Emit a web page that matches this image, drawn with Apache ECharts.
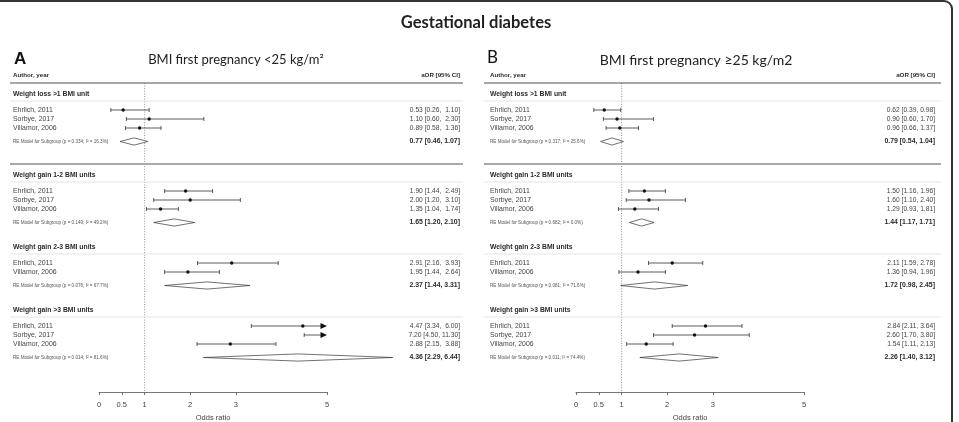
<!DOCTYPE html>
<html><head><meta charset="utf-8">
<script src="https://cdn.jsdelivr.net/npm/echarts@6/dist/echarts.min.js"></script>
<style>html,body{margin:0;padding:0;background:#fff}#c{width:959px;height:422px}</style>
</head><body><div id="c"></div>
<script>
// ---------- data ----------
const subgroups = ['Weight loss >1 BMI unit', 'Weight gain 1-2 BMI units', 'Weight gain 2-3 BMI units', 'Weight gain >3 BMI units'];
const studies = [
  ['Ehrlich, 2011', 'Sorbye, 2017', 'Villamor, 2006'],
  ['Ehrlich, 2011', 'Sorbye, 2017', 'Villamor, 2006'],
  ['Ehrlich, 2011', 'Villamor, 2006'],
  ['Ehrlich, 2011', 'Sorbye, 2017', 'Villamor, 2006']
];
// Panel A: BMI first pregnancy <25
const orA   = [[0.53, 1.10, 0.89], [1.90, 2.00, 1.35], [2.91, 1.95], [4.47, 7.20, 2.88]];
const lowA  = [[0.26, 0.60, 0.58], [1.44, 1.20, 1.04], [2.16, 1.44], [3.34, 4.50, 2.15]];
const highA = [[1.10, 2.30, 1.36], [2.49, 3.10, 1.74], [3.93, 2.64], [6.00, 11.30, 3.88]];
const reA     = [0.77, 1.65, 2.37, 4.36];
const reLowA  = [0.46, 1.20, 1.44, 2.29];
const reHighA = [1.07, 2.10, 3.31, 6.44];
const reStatsA = ['p = 0.334; I² = 16.3%', 'p = 0.149; I² = 49.2%', 'p = 0.076; I² = 67.7%', 'p = 0.014; I² = 81.6%'];
// Panel B: BMI first pregnancy >=25
const orB   = [[0.62, 0.90, 0.96], [1.50, 1.60, 1.29], [2.11, 1.36], [2.84, 2.60, 1.54]];
const lowB  = [[0.39, 0.60, 0.66], [1.16, 1.10, 0.93], [1.59, 0.94], [2.11, 1.70, 1.11]];
const highB = [[0.98, 1.70, 1.37], [1.96, 2.40, 1.81], [2.78, 1.96], [3.64, 3.80, 2.13]];
const reB     = [0.79, 1.44, 1.72, 2.26];
const reLowB  = [0.54, 1.17, 0.98, 1.40];
const reHighB = [1.04, 1.71, 2.45, 3.12];
const reStatsB = ['p = 0.317; I² = 25.6%', 'p = 0.682; I² = 0.0%', 'p = 0.081; I² = 71.6%', 'p = 0.011; I² = 74.4%'];
// axis
const xTicks = [0, 0.5, 1, 2, 3, 5];
const xMin = 0, xMax = 5;
const refValue = 1;

// ---------- layout helpers ----------
const ROW_TOP = -3, ROW_BOTTOM = 31.333;
function fmt(v) { return v.toFixed(2); }
function padL(s, n) { while (s.length < n) s = ' ' + s; return s; }

function buildRows(or, lo, hi, re, reLo, reHi, stats, padHi) {
  const rows = [];
  rows.push({kind: 'colhead', row: -3.9});
  rows.push({kind: 'top', row: ROW_TOP});
  rows.push({kind: 'ref', row: ROW_TOP});
  let start = 0;
  for (let g = 0; g < subgroups.length; g++) {
    rows.push({kind: 'header', row: start - 1.75, text: subgroups[g]});
    rows.push({kind: 'hline', row: start - 1.0});
    studies[g].forEach((s, i) => {
      const h = padHi ? padL(fmt(hi[g][i]), 5) : fmt(hi[g][i]);
      rows.push({kind: 'study', row: start + i, text: s, est: or[g][i], lo: lo[g][i], hi: hi[g][i],
        val: fmt(or[g][i]) + ' [' + fmt(lo[g][i]) + ', ' + h + ']'});
    });
    const reRow = start + studies[g].length - 1 + 1.5;
    rows.push({kind: 're', row: reRow, text: 'RE Model for Subgroup (' + stats[g] + ')', est: re[g], lo: reLo[g], hi: reHi[g],
      val: fmt(re[g]) + ' [' + fmt(reLo[g]) + ', ' + fmt(reHi[g]) + ']'});
    if (g === 0) rows.push({kind: 'sep', row: reRow + 2.5});
    start = reRow + (g === 0 ? 5.5 : 4.5);
  }
  return rows;
}

const rowsA = buildRows(orA, lowA, highA, reA, reLowA, reHighA, reStatsA, true);
const rowsB = buildRows(orB, lowB, highB, reB, reLowB, reHighB, reStatsB, false);

const LA = {textLeft: 13, valRight: 460, lineLeft: 10, lineRight: 463};
const LB = {textLeft: 490, valRight: 935, lineLeft: 484, lineRight: 941};

const FONT = '"Liberation Sans", Arial, sans-serif';
const INK = '#2b2b2b';

function txt(x, y, text, font, fill, align) {
  return {type: 'text', style: {x: x, y: y, text: text, font: font, fill: fill,
    align: align || 'left', textAlign: align || 'left', verticalAlign: 'middle', textVerticalAlign: 'middle'}};
}

function makeRender(rows, L) {
  return function (params, api) {
    const r = rows[params.dataIndex];
    const y = api.coord([xMin, r.row])[1];
    const X = v => api.coord([v, r.row])[0];
    const ch = [];
    const lineStyle = {stroke: '#333', lineWidth: 0.8};
    if (r.kind === 'colhead') {
      ch.push(txt(L.textLeft, y, 'Author, year', 'bold 6.2px ' + FONT, INK));
      ch.push(txt(L.valRight, y, 'aOR [95% CI]', 'bold 6.2px ' + FONT, INK, 'right'));
    } else if (r.kind === 'top') {
      ch.push({type: 'line', shape: {x1: L.lineLeft, y1: y, x2: L.lineRight, y2: y}, style: {stroke: '#8a8a8a', lineWidth: 1.4}});
    } else if (r.kind === 'ref') {
      const p1 = api.coord([refValue, ROW_TOP]);
      const p2 = api.coord([refValue, ROW_BOTTOM]);
      ch.push({type: 'line', shape: {x1: p1[0], y1: p1[1], x2: p2[0], y2: p2[1]}, style: {stroke: '#666', lineWidth: 0.7, lineDash: [1, 1.6]}});
    } else if (r.kind === 'header') {
      ch.push(txt(L.textLeft, y, r.text, 'bold 6.8px ' + FONT, INK));
    } else if (r.kind === 'hline') {
      ch.push({type: 'line', shape: {x1: L.lineLeft, y1: y, x2: L.lineRight, y2: y}, style: {stroke: '#e4e4e4', lineWidth: 1}});
    } else if (r.kind === 'sep') {
      ch.push({type: 'line', shape: {x1: L.lineLeft, y1: y, x2: L.lineRight, y2: y}, style: {stroke: '#a8a8a8', lineWidth: 1.8}});
    } else if (r.kind === 'study') {
      ch.push(txt(L.textLeft, y, r.text, '6.9px ' + FONT, '#444'));
      ch.push(txt(L.valRight, y, r.val, '6.7px ' + FONT, '#444', 'right'));
      const xl = X(r.lo), xh = X(Math.min(r.hi, xMax));
      const over = r.hi > xMax;
      ch.push({type: 'line', shape: {x1: xl, y1: y, x2: over ? xh - 5 : xh, y2: y}, style: lineStyle});
      ch.push({type: 'line', shape: {x1: xl, y1: y - 2, x2: xl, y2: y + 2}, style: lineStyle});
      if (over) {
        ch.push({type: 'polygon', shape: {points: [[xh - 6.5, y - 3], [xh, y], [xh - 6.5, y + 3]]}, style: {fill: '#111'}});
      } else {
        ch.push({type: 'line', shape: {x1: xh, y1: y - 2, x2: xh, y2: y + 2}, style: lineStyle});
      }
      if (r.est <= xMax) {
        ch.push({type: 'circle', shape: {cx: X(r.est), cy: y, r: 1.7}, style: {fill: '#111'}});
      }
    } else if (r.kind === 're') {
      ch.push(txt(L.textLeft, y, r.text, '4.6px ' + FONT, '#555'));
      ch.push(txt(L.valRight, y, r.val, 'bold 6.9px ' + FONT, INK, 'right'));
      ch.push({type: 'polygon', shape: {points: [[X(r.lo), y], [X(r.est), y - 3.6], [X(r.hi), y], [X(r.est), y + 3.6]]},
        style: {fill: '#fff', stroke: '#333', lineWidth: 0.7}});
    }
    return {type: 'group', children: ch};
  };
}

function xAxisCfg(gi) {
  return {
    type: 'value', gridIndex: gi, min: xMin, max: xMax, position: 'bottom',
    splitLine: {show: false},
    axisLine: {show: true, onZero: false, lineStyle: {color: '#555', width: 0.8}},
    axisTick: {show: true, customValues: xTicks, length: 3, lineStyle: {color: '#555', width: 0.8}},
    axisLabel: {show: true, customValues: xTicks, margin: 9, fontSize: 7.5, color: '#444', fontFamily: FONT,
      formatter: v => String(v)},
    name: 'Odds ratio', nameLocation: 'middle', nameGap: 21,
    nameTextStyle: {fontSize: 7.5, color: '#444', fontFamily: FONT}
  };
}
function yAxisCfg(gi) {
  return {type: 'value', gridIndex: gi, min: ROW_TOP, max: ROW_BOTTOM, inverse: true, show: false};
}

const chart = echarts.init(document.getElementById('c'), null, {renderer: 'canvas'});
chart.setOption({
  animation: false,
  backgroundColor: '#fff',
  grid: [
    {left: 99, width: 228, top: 83, height: 309, containLabel: false, outerBoundsMode: 'none'},
    {left: 576, width: 228, top: 83, height: 309, containLabel: false, outerBoundsMode: 'none'}
  ],
  xAxis: [xAxisCfg(0), xAxisCfg(1)],
  yAxis: [yAxisCfg(0), yAxisCfg(1)],
  graphic: [
    {type: 'rect', shape: {x: -10, y: 1, width: 962, height: 440, r: 8}, style: {fill: 'none', stroke: '#333', lineWidth: 2}, silent: true},
    {type: 'text', x: 476, y: 23, style: {text: 'Gestational diabetes', font: 'bold 16.5px Lato, "Open Sans", sans-serif', fill: '#222', align: 'center', verticalAlign: 'middle'}},
    {type: 'text', x: 14, y: 59, style: {text: 'A', font: 'bold 17px "Liberation Sans", Arial, sans-serif', fill: '#111', align: 'left', verticalAlign: 'middle'}},
    {type: 'text', x: 236, y: 60, style: {text: 'BMI first pregnancy <25 kg/m²', font: '13px Lato, "Open Sans", sans-serif', fill: '#222', align: 'center', verticalAlign: 'middle'}},
    {type: 'text', x: 487, y: 58, style: {text: 'B', font: '17px Lato, "Open Sans", sans-serif', fill: '#111', align: 'left', verticalAlign: 'middle'}},
    {type: 'text', x: 696, y: 60, style: {text: 'BMI first pregnancy ≥25 kg/m2', font: '14px Lato, "Open Sans", sans-serif', fill: '#222', align: 'center', verticalAlign: 'middle'}}
  ],
  series: [
    {type: 'custom', name: 'A', coordinateSystem: 'cartesian2d', xAxisIndex: 0, yAxisIndex: 0, clip: false, silent: true,
      encode: {x: 0, y: 1}, renderItem: makeRender(rowsA, LA),
      data: rowsA.map(r => [r.est != null ? r.est : refValue, r.row])},
    {type: 'custom', name: 'B', coordinateSystem: 'cartesian2d', xAxisIndex: 1, yAxisIndex: 1, clip: false, silent: true,
      encode: {x: 0, y: 1}, renderItem: makeRender(rowsB, LB),
      data: rowsB.map(r => [r.est != null ? r.est : refValue, r.row])}
  ]
});
</script>
</body></html>
